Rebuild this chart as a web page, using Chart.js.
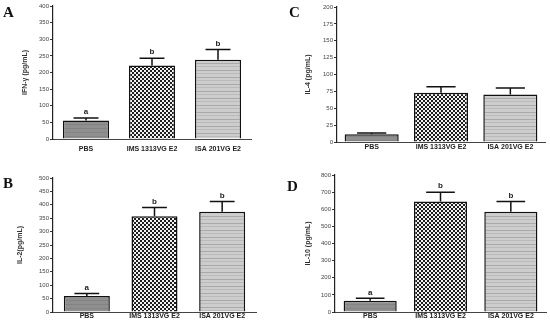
<!DOCTYPE html>
<html><head><meta charset="utf-8">
<script src="https://cdn.jsdelivr.net/npm/chart.js@4.4.1/dist/chart.umd.min.js"></script>
<style>
html,body{margin:0;padding:0;background:#fff;width:550px;height:327px;overflow:hidden;position:relative}
canvas{position:absolute}
.pl{position:absolute;font-family:'Liberation Serif','Times New Roman',serif;font-weight:bold;font-size:15px;line-height:15px;color:#111}
</style></head><body>
<canvas id="cA" width="275" height="160" style="left:0;top:0"></canvas>
<canvas id="cC" width="275" height="160" style="left:275px;top:0"></canvas>
<canvas id="cB" width="275" height="167" style="left:0;top:160px"></canvas>
<canvas id="cD" width="275" height="167" style="left:275px;top:160px"></canvas>
<div class="pl" style="left:3px;top:5px">A</div>
<div class="pl" style="left:289px;top:5px">C</div>
<div class="pl" style="left:3px;top:176px">B</div>
<div class="pl" style="left:287px;top:179px">D</div>
<script>
const categories = ['PBS', 'IMS 1313VG E2', 'ISA 201VG E2'];
// Panel A: IFN-γ
const ifnMean = [56, 221, 238];
const ifnErr = [7, 22, 31];
const ifnLetters = ['a', 'b', 'b'];
// Panel C: IL-4
const il4Mean = [11.5, 73, 70.5];
const il4Err = [2, 9, 9.5];
// Panel B: IL-2
const il2Mean = [60, 357, 374];
const il2Err = [9, 33, 38];
const il2Letters = ['a', 'b', 'b'];
// Panel D: IL-10
const il10Mean = [66, 645, 585];
const il10Err = [14, 54, 60];
const il10Letters = ['a', 'b', 'b'];

Chart.defaults.font.family = "'Liberation Sans', Arial, sans-serif";
Chart.defaults.animation = false;

function tile(w, h, draw) {
  const c = document.createElement('canvas'); c.width = w; c.height = h;
  const x = c.getContext('2d'); draw(x);
  return x.createPattern(c, 'repeat');
}
const patPBS = tile(4, 4, x => { x.fillStyle = '#8f8f8f'; x.fillRect(0,0,4,4); x.fillStyle = '#838383'; x.fillRect(0,0,4,1); });
const patIMS = tile(4, 4, x => { x.fillStyle = '#f2f2f2'; x.fillRect(0,0,4,4); x.fillStyle = '#1e1e1e'; x.fillRect(0,0,2,2); x.fillRect(2,2,2,2); });
const patISA = tile(4, 7, x => { x.fillStyle = '#cdcdcd'; x.fillRect(0,0,4,7); x.fillStyle = '#a9a9a9'; x.fillRect(0,0,4,1); x.fillStyle = '#bababa'; x.fillRect(0,3,4,1); });

const errPlugin = {
  id: 'errbars',
  afterDatasetsDraw(chart) {
    const ctx = chart.ctx, y = chart.scales.y;
    const ds = chart.data.datasets[0];
    chart.getDatasetMeta(0).data.forEach((bar, i) => {
      const v = ds.data[i], e = ds.errors[i];
      const yt = y.getPixelForValue(v + e), yb = y.getPixelForValue(v);
      const hw = bar.width * 0.27;
      ctx.save();
      ctx.strokeStyle = '#111'; ctx.lineWidth = 1.5;
      ctx.beginPath();
      ctx.moveTo(bar.x, yb); ctx.lineTo(bar.x, yt);
      ctx.moveTo(bar.x - hw, yt); ctx.lineTo(bar.x + hw, yt);
      ctx.stroke();
      if (ds.letters) {
        ctx.fillStyle = '#222'; ctx.font = "bold 8px 'Liberation Sans', Arial";
        ctx.textAlign = 'center'; ctx.textBaseline = 'bottom';
        ctx.fillText(ds.letters[i], bar.x, yt - 2);
      }
      ctx.restore();
    });
  }
};

function make(id, p) {
  new Chart(document.getElementById(id), {
    type: 'bar',
    data: {
      labels: categories,
      datasets: [{
        data: p.mean, errors: p.err, letters: p.letters,
        backgroundColor: [patPBS, patIMS, patISA],
        borderColor: '#111', borderWidth: 1.5,
        categoryPercentage: 1, barPercentage: p.bp
      }]
    },
    options: {
      responsive: false, devicePixelRatio: 1,
      layout: { padding: { left: p.boxLeft, right: p.right, top: p.top, bottom: 0 } },
      plugins: { legend: { display: false }, tooltip: { enabled: false } },
      scales: {
        x: {
          grid: { display: false, drawTicks: false, tickLength: 0 },
          border: { display: true, color: '#444', width: 1 },
          ticks: { padding: p.xpad, color: '#222', font: { size: 7, weight: 'bold' }, maxRotation: 0 },
          afterFit: s => { s.height = p.xh; }
        },
        y: {
          min: 0, max: p.max,
          ticks: { stepSize: p.step, padding: 1, color: '#444', font: { size: 6 } },
          grid: { display: true, drawOnChartArea: false, drawTicks: true, tickLength: 3, color: '#333' },
          border: { display: true, color: '#222', width: 1.2 },
          title: { display: true, text: p.title, color: '#333', font: { size: 7, weight: 'bold' }, padding: { top: 6, bottom: 0 } },
          afterFit: s => { s.width = p.yw; }
        }
      }
    },
    plugins: [errPlugin]
  });
}

make('cA', { mean: ifnMean, err: ifnErr, letters: ifnLetters, bp: 0.70, max: 400, step: 50,
  title: 'IFN-γ (pg/mL)', boxLeft: 15, yw: 38, right: 24, top: 6, xh: 21, xpad: 6 });
make('cC', { mean: il4Mean, err: il4Err, letters: null, bp: 0.78, max: 200, step: 25,
  title: 'IL-4 (pg/mL)', boxLeft: 23, yw: 39, right: 5, top: 7, xh: 18, xpad: 1 });
make('cB', { mean: il2Mean, err: il2Err, letters: il2Letters, bp: 0.68, max: 500, step: 50,
  title: 'IL-2(pg/mL)', boxLeft: 10, yw: 43, right: 19, top: 18, xh: 15, xpad: 0 });
make('cD', { mean: il10Mean, err: il10Err, letters: il10Letters, bp: 0.755, max: 800, step: 100,
  title: 'IL-10 (pg/mL)', boxLeft: 23, yw: 37, right: 4, top: 15, xh: 15, xpad: 0 });
</script>
</body></html>
